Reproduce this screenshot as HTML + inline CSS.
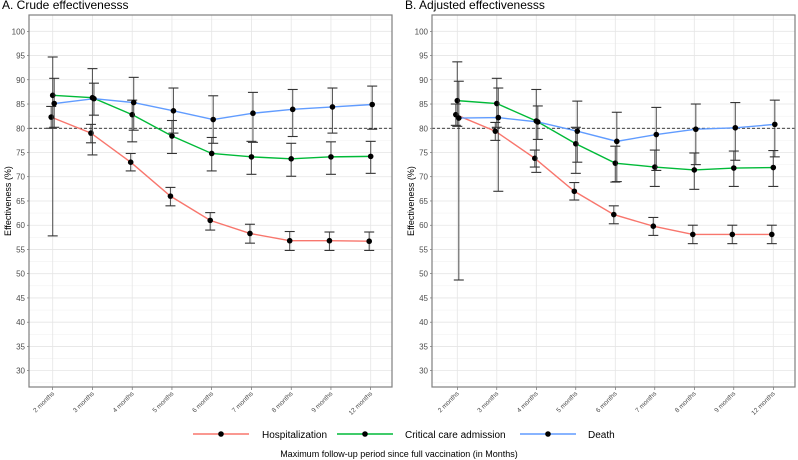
<!DOCTYPE html>
<html><head><meta charset="utf-8"><style>
body{margin:0;background:#fff;font-family:"Liberation Sans",sans-serif;}
svg{display:block}
</style></head><body>
<svg id="c" width="798" height="460" xmlns="http://www.w3.org/2000/svg"></svg>
<script>
const categories=["2 months","3 months","4 months","5 months","6 months","7 months","8 months","9 months","12 months"];
const yTicks=[30,35,40,45,50,55,60,65,70,75,80,85,90,95,100];
const seriesNames=["Hospitalization","Critical care admission","Death"];
const seriesColors=["#f8766d","#00ba38","#619cff"];
// Panel A crude
const aHosp=[82.3,79,73,66,61,58.3,56.8,56.8,56.7];
const aHospLo=[80,77,71.2,64,59,56.3,54.8,54.8,54.8];
const aHospHi=[84.5,80.8,74.8,67.8,62.6,60.2,58.7,58.6,58.6];
const aCrit=[86.8,86.3,82.8,78.4,74.8,74.1,73.7,74.1,74.2];
const aCritLo=[57.8,74.5,77.2,74.8,71.2,70.5,70.1,70.5,70.7];
const aCritHi=[94.7,92.3,85.8,81.6,78.1,77.3,76.9,77.2,77.3];
const aDeath=[85.1,86.1,85.3,83.6,81.8,83.1,83.9,84.4,84.9];
const aDeathLo=[80.2,82.7,79.6,79,76.9,77.1,78.3,79,79.8];
const aDeathHi=[90.3,89.3,90.5,88.3,86.7,87.4,88,88.3,88.7];
// Panel B adjusted
const bHosp=[82.8,79.4,73.8,67,62.2,59.8,58.1,58.1,58.1];
const bHospLo=[80.6,77.5,72,65.2,60.3,57.9,56.2,56.2,56.2];
const bHospHi=[85,81.2,75.5,68.8,64,61.6,60,60,60];
const bCrit=[85.7,85.1,81.5,76.8,72.8,72,71.4,71.8,71.9];
const bCritLo=[80.4,80.2,70.9,70.7,68.9,68,67.4,68,68];
const bCritHi=[93.7,90.3,88,80.2,76.3,75.5,74.9,75.3,75.4];
const bDeath=[82.1,82.2,81.3,79.4,77.3,78.7,79.8,80.1,80.8];
const bDeathLo=[48.7,67,77.7,73,69,71.3,72.5,73.4,74.1];
const bDeathHi=[89.7,88.3,84.6,85.6,83.3,84.3,85,85.3,85.8];

const NS="http://www.w3.org/2000/svg";
const svg=document.getElementById('c');
function mk(tag,attrs,parent){const e=document.createElementNS(NS,tag);for(const k in attrs)e.setAttribute(k,attrs[k]);(parent||svg).appendChild(e);return e;}
function yS(v){return 31.3+(100-v)*4.848;}
const panels=[
 {title:"A. Crude effectivenesss",x0:29,x1:392,c0:52.7,step:39.75,name:"panel-a",
  data:[[aHosp,aHospLo,aHospHi],[aCrit,aCritLo,aCritHi],[aDeath,aDeathLo,aDeathHi]]},
 {title:"B. Adjusted effectivenesss",x0:432,x1:795,c0:457.3,step:39.5,name:"panel-b",
  data:[[bHosp,bHospLo,bHospHi],[bCrit,bCritLo,bCritHi],[bDeath,bDeathLo,bDeathHi]]}
];
const dodge=[-1.5,0,1.5];
panels.forEach(p=>{
  const g=mk('g',{});
  
  
  const xS=i=>p.c0+i*p.step;
  const t=mk('text',{x:p.x0-27,y:9,'font-size':12,fill:'#000'},g);
  t.textContent=p.title;
  
  
  for(let v=27.5;v<=102.5;v+=5){mk('line',{x1:p.x0,x2:p.x1,y1:yS(v),y2:yS(v),stroke:'#f2f2f2','stroke-width':0.6},g);}
  yTicks.forEach(v=>{mk('line',{x1:p.x0,x2:p.x1,y1:yS(v),y2:yS(v),stroke:'#e5e5e5','stroke-width':0.8},g);
    const l=mk('text',{x:p.x0-4,y:yS(v)+3,'font-size':8,fill:'#4d4d4d','text-anchor':'end'},g);
    l.textContent=v;
    
    
    mk('line',{x1:p.x0-2,x2:p.x0,y1:yS(v),y2:yS(v),stroke:'#555','stroke-width':0.6},g);});
  categories.forEach((c,i)=>{mk('line',{x1:xS(i),x2:xS(i),y1:15,y2:387,stroke:'#e5e5e5','stroke-width':0.8},g);
    mk('line',{x1:xS(i),x2:xS(i),y1:387,y2:390,stroke:'#555','stroke-width':0.6},g);
    const l=mk('text',{x:xS(i)+2,y:394,'font-size':6.5,fill:'#4d4d4d','text-anchor':'end',transform:`rotate(-45 ${xS(i)+2} 394)`},g);
    l.textContent=c;
    
    });
  mk('line',{x1:p.x0,x2:p.x1,y1:yS(80),y2:yS(80),stroke:'#000','stroke-width':0.8,'stroke-dasharray':'3,2'},g);
  p.data.forEach((s,si)=>{
    const [m,lo,hi]=s;
    const pts=m.map((v,i)=>(xS(i)+dodge[si])+','+yS(v)).join(' ');
    const pl=mk('polyline',{points:pts,fill:'none',stroke:seriesColors[si],'stroke-width':1.4},g);
    
    
  });
  p.data.forEach((s,si)=>{
    const [m,lo,hi]=s;
    m.forEach((v,i)=>{const x=xS(i)+dodge[si];
      mk('line',{x1:x,x2:x,y1:yS(lo[i]),y2:yS(hi[i]),stroke:'#333','stroke-width':1.1,'stroke-opacity':0.8},g);
      mk('line',{x1:x-5,x2:x+5,y1:yS(lo[i]),y2:yS(lo[i]),stroke:'#333','stroke-width':1.1},g);
      mk('line',{x1:x-5,x2:x+5,y1:yS(hi[i]),y2:yS(hi[i]),stroke:'#333','stroke-width':1.1},g);
      const d=mk('circle',{cx:x,cy:yS(v),r:2.8,fill:'#000'},g);
      
      
    });
  });
  mk('rect',{x:p.x0,y:15,width:p.x1-p.x0,height:372,fill:'none',stroke:'#7f7f7f','stroke-width':1.2},g);
  const yt=mk('text',{x:0,y:0,'font-size':9,fill:'#000','text-anchor':'middle',transform:`translate(${p.x0-18},201) rotate(-90)`},g);
  yt.textContent="Effectiveness (%)";
  
  
});
const lx=[193,337,520],tx=[262,405,588];
seriesNames.forEach((n,i)=>{
  const g=mk('g',{});
  
  
  mk('line',{x1:lx[i],x2:lx[i]+56,y1:434,y2:434,stroke:seriesColors[i],'stroke-width':1.4},g);
  mk('circle',{cx:lx[i]+28,cy:434,r:2.8,fill:'#000'},g);
  const t=mk('text',{x:tx[i],y:438,'font-size':10,fill:'#000'},g);
  t.textContent=n;
});
const xt=mk('text',{x:399,y:457,'font-size':9,fill:'#000','text-anchor':'middle'});
xt.textContent="Maximum follow-up period since full vaccination (in Months)";


</script>
</body></html>
